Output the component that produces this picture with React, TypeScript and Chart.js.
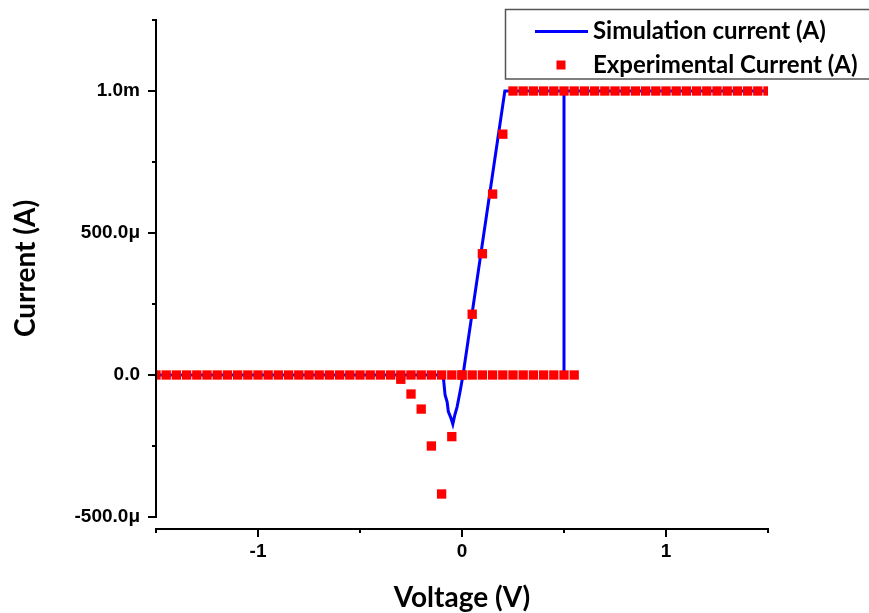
import React, { useEffect, useRef } from 'react';
import { Chart, registerables } from 'chart.js';

Chart.register(...registerables);

// ---- Data (voltage in V, current in µA) ----
const simVoltage = [-1.5, -0.095, -0.09, -0.083, -0.073, -0.067, -0.055, -0.045, -0.035, -0.024, -0.008, 0.005, 0.21, 1.5, 0.5, 0.5];
const simCurrent = [0, 0, -18, -70, -94, -129, -150, -173, -140, -112, -53, 0, 1000, 1000, 1000, 0];

const expVoltageForward = [
  -1.5, -1.45, -1.4, -1.35, -1.3, -1.25, -1.2, -1.15, -1.1, -1.05,
  -1, -0.95, -0.9, -0.85, -0.8, -0.75, -0.7, -0.65, -0.6, -0.55,
  -0.5, -0.45, -0.4, -0.35, -0.3, -0.25, -0.2, -0.15, -0.1, -0.05,
  0, 0.05, 0.1, 0.15, 0.2, 0.25, 0.3, 0.35, 0.4, 0.45,
  0.5, 0.55, 0.6, 0.65, 0.7, 0.75, 0.8, 0.85, 0.9, 0.95,
  1, 1.05, 1.1, 1.15, 1.2, 1.25, 1.3, 1.35, 1.4, 1.45, 1.5,
];
const expCurrentForward = [
  0, 0, 0, 0, 0, 0, 0, 0, 0, 0,
  0, 0, 0, 0, 0, 0, 0, 0, 0, 0,
  0, 0, 0, 0, -15, -67, -120, -250, -419, -217,
  0, 214, 427, 637, 848, 1000, 1000, 1000, 1000, 1000,
  1000, 1000, 1000, 1000, 1000, 1000, 1000, 1000, 1000, 1000,
  1000, 1000, 1000, 1000, 1000, 1000, 1000, 1000, 1000, 1000, 1000,
];
const expVoltageReverse = [0.55, 0.5, 0.45, 0.4, 0.35, 0.3, 0.25, 0.2, 0.15, 0.1, 0.05, 0, -0.05, -0.1, -0.15, -0.2, -0.25, -0.3];
const expCurrentReverse = [0, 0, 0, 0, 0, 0, 0, 0, 0, 0, 0, 0, 0, 0, 0, 0, 0, 0];

const xMin = -1.5;
const xMax = 1.5;
const yMin = -500;
const yMax = 1250;

const xTickValues = [-1, 0, 1];
const xTickLabels = ['-1', '0', '1'];
const xAxisTicks = [-1.5, -1, -0.5, 0, 0.5, 1, 1.5];
const yTickValues = [-500, 0, 500, 1000];
const yTickLabels = ['-500.0\u03bc', '0.0', '500.0\u03bc', '1.0m'];
const yAxisTicks = [-500, -250, 0, 250, 500, 750, 1000, 1250];

const seriesNames = ['Simulation current (A)', 'Experimental Current (A)'];
const xTitle = 'Voltage (V)';
const yTitle = 'Current (A)';

const BLUE = '#0000ff';
const RED = '#ff0000';

export default function App() {
  const ref = useRef<HTMLCanvasElement>(null);

  useEffect(() => {
    document.body.style.margin = '0';
    const canvas = ref.current;
    if (!canvas) return;

    const simData = simVoltage.map((v, i) => ({ x: v, y: simCurrent[i] }));
    const expData = [
      ...expVoltageForward.map((v, i) => ({ x: v, y: expCurrentForward[i] })),
      ...expVoltageReverse.map((v, i) => ({ x: v, y: expCurrentReverse[i] })),
    ];

    const axesPlugin = {
      id: 'originAxes',
      afterDraw(chart: any) {
        const { ctx, chartArea, scales } = chart;
        const xs = scales.x;
        const ys = scales.y;
        ctx.save();
        ctx.strokeStyle = '#000';
        ctx.lineWidth = 2;
        // Y axis
        const yl = chartArea.left;
        ctx.beginPath();
        ctx.moveTo(yl, chartArea.top - 1);
        ctx.lineTo(yl, chartArea.bottom + 1);
        ctx.stroke();
        yAxisTicks.forEach((v) => {
          const py = ys.getPixelForValue(v);
          const len = yTickValues.includes(v) ? 8 : 4;
          ctx.beginPath();
          ctx.moveTo(yl, py);
          ctx.lineTo(yl - len, py);
          ctx.stroke();
        });
        // X axis (offset below plot)
        const xy = chartArea.bottom + 12;
        ctx.beginPath();
        ctx.moveTo(chartArea.left - 1, xy);
        ctx.lineTo(chartArea.right + 1, xy);
        ctx.stroke();
        xAxisTicks.forEach((v) => {
          const px = xs.getPixelForValue(v);
          const len = xTickValues.includes(v) ? 8 : 4;
          ctx.beginPath();
          ctx.moveTo(px, xy);
          ctx.lineTo(px, xy + len);
          ctx.stroke();
        });
        ctx.restore();
      },
    };

    const legendPlugin = {
      id: 'boxLegend',
      afterDraw(chart: any) {
        const { ctx } = chart;
        const sim = chart.data.datasets[0];
        const exp = chart.data.datasets[1];
        ctx.save();
        ctx.strokeStyle = '#555';
        ctx.lineWidth = 1.5;
        ctx.strokeRect(505.5, 9.5, 400, 69.5);
        ctx.strokeStyle = sim.borderColor;
        ctx.lineWidth = 3;
        ctx.beginPath();
        ctx.moveTo(535, 31.5);
        ctx.lineTo(588, 31.5);
        ctx.stroke();
        ctx.fillStyle = exp.backgroundColor;
        ctx.fillRect(556.5, 60.5, 9, 9);
        ctx.fillStyle = '#000';
        ctx.font = 'bold 24px Lato';
        ctx.textBaseline = 'middle';
        ctx.textAlign = 'left';
        ctx.fillText(seriesNames[0], 593, 31);
        ctx.fillText(seriesNames[1], 593, 65);
        ctx.restore();
      },
    };

    const tickFont = { family: "'Liberation Sans', Arial, sans-serif", size: 19, weight: 'bold' as const, lineHeight: 1 };
    const titleFont = { family: 'Lato, sans-serif', size: 28, weight: 'bold' as const, lineHeight: 1 };

    const chart = new Chart(canvas, {
      type: 'scatter',
      data: {
        datasets: [
          {
            label: seriesNames[0],
            data: simData,
            showLine: true,
            borderColor: BLUE,
            backgroundColor: BLUE,
            borderWidth: 3,
            pointRadius: 0,
            tension: 0,
            order: 2,
          },
          {
            label: seriesNames[1],
            data: expData,
            showLine: false,
            pointStyle: 'rect',
            pointRadius: 6.6,
            pointBorderWidth: 0,
            borderWidth: 0,
            backgroundColor: RED,
            borderColor: RED,
            order: 1,
            clip: { left: 0, right: 0, top: false, bottom: false } as any,
          },
        ],
      },
      options: {
        animation: false,
        responsive: false,
        maintainAspectRatio: false,
        layout: { padding: { top: 20, right: 101, left: 0, bottom: 0 } },
        plugins: {
          legend: { display: false },
          tooltip: { enabled: false },
        },
        scales: {
          x: {
            type: 'linear',
            min: xMin,
            max: xMax,
            border: { display: false },
            grid: { display: false, drawTicks: false },
            afterBuildTicks: (scale: any) => {
              scale.ticks = xTickValues.map((v) => ({ value: v }));
            },
            afterFit: (scale: any) => {
              scale.height = 96;
              scale.paddingLeft = 0;
              scale.paddingRight = 0;
            },
            ticks: {
              color: '#000',
              font: tickFont,
              padding: 25,
              maxRotation: 0,
              autoSkip: false,
              callback: (value: any) => {
                const i = xTickValues.indexOf(Number(value));
                return i >= 0 ? xTickLabels[i] : '';
              },
            },
            title: {
              display: true,
              text: xTitle,
              color: '#000',
              font: titleFont,
              padding: { top: 0, bottom: 1 },
            },
          },
          y: {
            type: 'linear',
            min: yMin,
            max: yMax,
            border: { display: false },
            grid: { display: false, drawTicks: false },
            afterBuildTicks: (scale: any) => {
              scale.ticks = yTickValues.map((v) => ({ value: v }));
            },
            afterFit: (scale: any) => {
              scale.width = 156;
              scale.paddingTop = 0;
              scale.paddingBottom = 0;
            },
            ticks: {
              color: '#000',
              font: tickFont,
              padding: 16,
              autoSkip: false,
              callback: (value: any) => {
                const i = yTickValues.indexOf(Number(value));
                return i >= 0 ? yTickLabels[i] : '';
              },
            },
            title: {
              display: true,
              text: yTitle,
              color: '#000',
              font: titleFont,
              padding: { top: 12, bottom: 0 },
            },
          },
        },
      },
      plugins: [axesPlugin, legendPlugin],
    });

    return () => {
      chart.destroy();
    };
  }, []);

  return (
    <div style={{ width: 869, height: 613, background: '#fff' }}>
      <canvas ref={ref} width={869} height={613} style={{ display: 'block' }} />
    </div>
  );
}
